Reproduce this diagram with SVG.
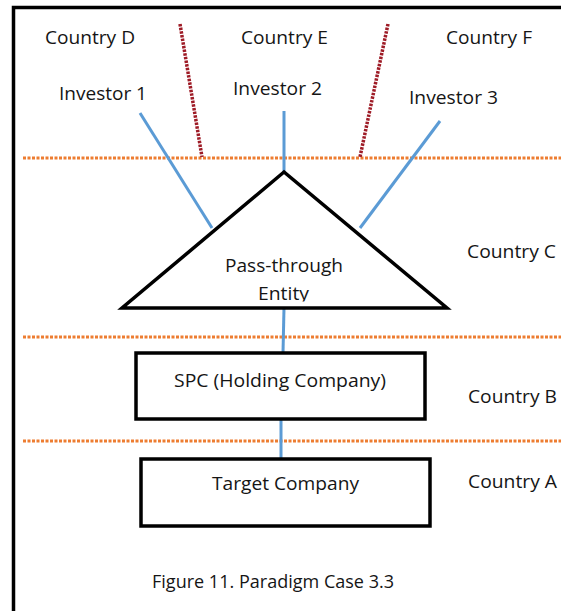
<svg xmlns="http://www.w3.org/2000/svg" width="561" height="611" viewBox="0 0 561 611">
<style>
.t{font-family:"Open Sans","Noto Sans","Liberation Sans",sans-serif;font-size:19px;fill:#151515}
.box{fill:#fff;stroke:#000;stroke-width:3.5}
.blue{stroke:#5b9bd5;stroke-width:3;fill:none}
.orange{stroke:#ed7d31;stroke-width:3;stroke-dasharray:3 1.5;fill:none}
.red{stroke:#9e1b26;stroke-width:3.5;stroke-dasharray:2.5 1.2;fill:none}
</style>
<defs><clipPath id="clipEnt"><rect x="0" y="0" width="561" height="301.5"/></clipPath></defs>
<rect width="561" height="611" fill="#fff"/>
<g id="frame"><path d="M13.5,611 V7.5 H561" fill="none" stroke="#000" stroke-width="3.5"/></g>
<g id="borders">
<line class="orange" x1="23" y1="158" x2="561" y2="158"/>
<line class="orange" x1="23" y1="337" x2="561" y2="337"/>
<line class="orange" x1="23" y1="441" x2="561" y2="441"/>
<line class="red" x1="180" y1="24" x2="202" y2="157"/>
<line class="red" x1="388" y1="24" x2="360" y2="157"/>
</g>
<g id="connectors">
<line class="blue" x1="140" y1="113" x2="212" y2="228"/>
<line class="blue" x1="284" y1="111" x2="284" y2="172"/>
<line class="blue" x1="440" y1="121" x2="360" y2="228"/>
<line class="blue" x1="284" y1="308" x2="283" y2="353"/>
<line class="blue" x1="281" y1="419" x2="281" y2="459"/>
</g>
<g id="labels">
<text class="t" x="45" y="44" textLength="90" lengthAdjust="spacingAndGlyphs">Country D</text>
<text class="t" x="241" y="44" textLength="87" lengthAdjust="spacingAndGlyphs">Country E</text>
<text class="t" x="446" y="44" textLength="86" lengthAdjust="spacingAndGlyphs">Country F</text>
<text class="t" x="467" y="258" textLength="89" lengthAdjust="spacingAndGlyphs">Country C</text>
<text class="t" x="468" y="403" textLength="89" lengthAdjust="spacingAndGlyphs">Country B</text>
<text class="t" x="468" y="488" textLength="89" lengthAdjust="spacingAndGlyphs">Country A</text>
</g>
<g id="investor1"><text class="t" x="59" y="100" textLength="88" lengthAdjust="spacingAndGlyphs">Investor 1</text></g>
<g id="investor2"><text class="t" x="233" y="95" textLength="89" lengthAdjust="spacingAndGlyphs">Investor 2</text></g>
<g id="investor3"><text class="t" x="409" y="104" textLength="89" lengthAdjust="spacingAndGlyphs">Investor 3</text></g>
<g id="pass-through">
<polygon class="box" points="284,172 122,308 447,308"/>
<text class="t" x="225" y="272" textLength="118" lengthAdjust="spacingAndGlyphs">Pass-through</text>
<text class="t" x="258" y="300" textLength="51" lengthAdjust="spacingAndGlyphs" clip-path="url(#clipEnt)">Entity</text>
</g>
<g id="spc">
<rect class="box" x="136" y="353" width="289" height="66"/>
<text class="t" x="174" y="387" textLength="212" lengthAdjust="spacingAndGlyphs">SPC (Holding Company)</text>
</g>
<g id="target">
<rect class="box" x="141" y="459" width="289" height="67"/>
<text class="t" x="212" y="490" textLength="147" lengthAdjust="spacingAndGlyphs">Target Company</text>
</g>
<g id="caption"><text class="t" x="152" y="588" textLength="242" lengthAdjust="spacingAndGlyphs">Figure 11. Paradigm Case 3.3</text></g>
</svg>
